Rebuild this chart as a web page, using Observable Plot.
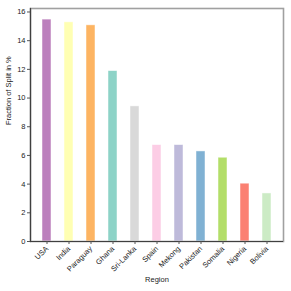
<!DOCTYPE html>
<html>
<head>
<meta charset="utf-8">
<script src="https://cdn.jsdelivr.net/npm/d3@7"></script>
<script src="https://cdn.jsdelivr.net/npm/@observablehq/plot@0.6"></script>
<style>
html,body{margin:0;padding:0;background:#fff;}
</style>
</head>
<body>
<div id="chart"></div>
<script>
const regions = ["USA","India","Paraguay","Ghana","Sri-Lanka","Spain","Mekong","Pakistan","Somalia","Nigeria","Bolivia"];
const fractions = [15.47, 15.28, 15.07, 11.88, 9.42, 6.72, 6.72, 6.28, 5.84, 4.03, 3.35];
const colors = ["#bc80bd","#ffffb3","#fdb462","#8dd3c7","#d9d9d9","#fccde5","#bebada","#80b1d3","#b3de69","#fb8072","#ccebc5"];
const yTicks = [0,2,4,6,8,10,12,14,16];

const data = regions.map((r,i)=>({region:r, value:fractions[i], color:colors[i]}));
const yMax = d3.max(fractions) * 1.05;

const chart = Plot.plot({
  width: 291,
  height: 291,
  marginLeft: 30,
  marginTop: 8,
  marginRight: 8,
  marginBottom: 50,
  style: {fontFamily: "Liberation Sans, Arial, sans-serif", fontSize: "7.5px", color: "#222", background: "#fff"},
  x: {domain: regions, paddingInner: 0.6, paddingOuter: 0.524, align: 0.5, label: null},
  y: {domain: [0, yMax], label: null},
  marks: [
    Plot.barY(data, {x: "region", y: "value", fill: d => d.color, stroke: "#ffffff", strokeOpacity: 0.6, strokeWidth: 0.8}),
    Plot.frame({stroke: "#a0a0a0", strokeWidth: 1.6}),
    Plot.ruleY([0], {stroke: "#404040", strokeWidth: 1.2}),
    Plot.frame({anchor: "left", stroke: "#404040", strokeWidth: 1.2}),
    Plot.axisY({ticks: yTicks, tickSize: 3, tickPadding: 2, stroke: "#555", fill: "#222", fontSize: 7.5, label: null}),
    Plot.axisX({tickSize: 3, tickRotate: -45, tickPadding: 3, stroke: "#555", fill: "#222", fontSize: 7.5, label: "Region", labelAnchor: "center", labelOffset: 40, labelArrow: "none"}),
    Plot.text(["Fraction of Split in %"], {frameAnchor: "left", rotate: -90, dx: -22, fontSize: 7.5, fill: "#222"})
  ]
});
document.getElementById("chart").appendChild(chart);
</script>
</body>
</html>
